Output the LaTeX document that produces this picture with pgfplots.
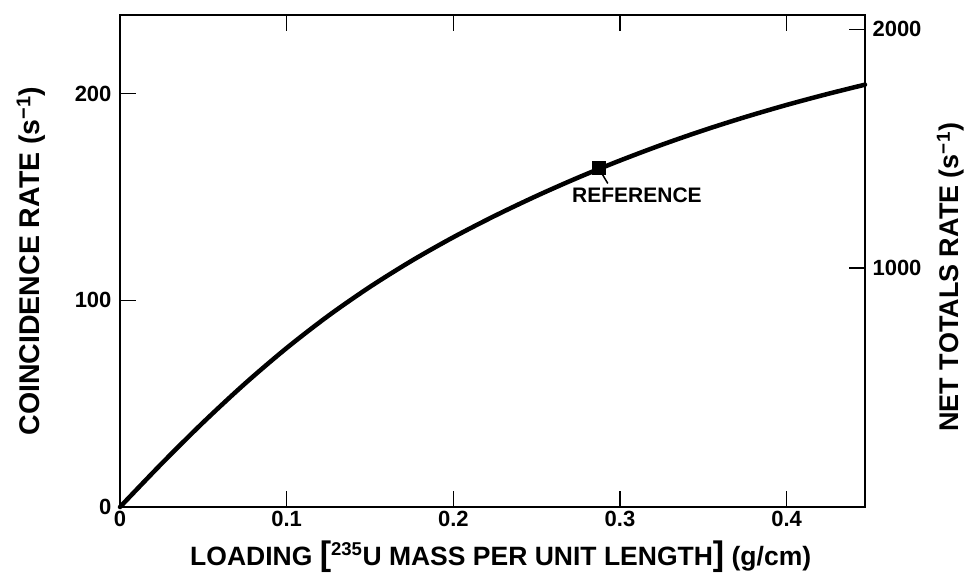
\documentclass[border=0pt]{standalone}
\usepackage{fontspec}
\setmainfont{Liberation Sans}
\usepackage{pgfplots}
\pgfplotsset{compat=1.18}
\begin{document}
\begin{tikzpicture}
\begin{axis}[
  name=ax,
  scale only axis, width=745pt, height=492pt,
  xmin=0, xmax=0.447, ymin=0, ymax=238,
  xtick={0,0.1,0.2,0.3,0.4}, xticklabels={0,0.1,0.2,0.3,0.4},
  ytick={0,100,200}, yticklabels={0,100,200},
  xtick pos=both, ytick pos=left, tick align=inside,
  major tick length=16pt,
  tick style={line width=1.4pt, black},
  axis line style={line width=2pt},
  tick label style={font=\fontsize{22}{22}\selectfont\bfseries},
  yticklabel style={xshift=-5pt},
  xticklabel style={yshift=-1pt},
  xlabel={LOADING {\fontsize{34}{34}\selectfont[}\textsuperscript{235}U MASS PER UNIT LENGTH{\fontsize{34}{34}\selectfont]} (g/cm)},
  xlabel style={font=\fontsize{26.5}{26.5}\selectfont\bfseries, at={(axis description cs:0.511,0)}, anchor=base, yshift=-58pt},
  ylabel={COINCIDENCE RATE (s\textsuperscript{−1})},
  ylabel style={font=\fontsize{28.5}{28.5}\selectfont\bfseries, at={(axis description cs:-0.1195,0.5)}, anchor=center},
  clip=false,
]
\addplot[black, line width=4.5pt, smooth, line cap=round] coordinates {
(0,0) (0.025,21) (0.05,41) (0.075,59.7) (0.1,76.9) (0.125,92.5) (0.15,106.5)
(0.175,119.1) (0.2,130.5) (0.225,140.9) (0.25,150.5) (0.275,159.4) (0.3,167.6)
(0.325,175.2) (0.35,182.2) (0.375,188.6) (0.4,194.5) (0.425,199.9) (0.447,204.3)
};
\addplot[only marks, mark=square*, mark size=6.5pt, black] coordinates {(0.287,164.2)};
\draw[line width=1.5pt] (axis cs:0.287,164.2) -- (axis cs:0.2927,156.5);
\node[font=\fontsize{21}{21}\selectfont\bfseries, anchor=base west, inner sep=0pt] at (axis cs:0.2712,147.3) {REFERENCE};
\end{axis}
\begin{axis}[
  scale only axis, width=745pt, height=492pt,
  xmin=0, xmax=0.447, ymin=0, ymax=2060,
  xtick=\empty, axis line style={draw=none},
  ytick={1000,2000}, yticklabels={1000,2000},
  ytick pos=right, tick align=inside, major tick length=16pt,
  tick style={line width=1.4pt, black},
  tick label style={font=\fontsize{22}{22}\selectfont\bfseries},
  yticklabel style={xshift=4pt},
  ylabel={NET TOTALS RATE (s\textsuperscript{−1})},
  ylabel style={font=\fontsize{27}{27}\selectfont\bfseries, at={(axis description cs:1.115,0.467)}, anchor=center},
]
\end{axis}
\pgfresetboundingbox
\path (ax.south west) ++(-120pt,-77pt) rectangle ++(969pt,584pt);
\end{tikzpicture}
\end{document}
